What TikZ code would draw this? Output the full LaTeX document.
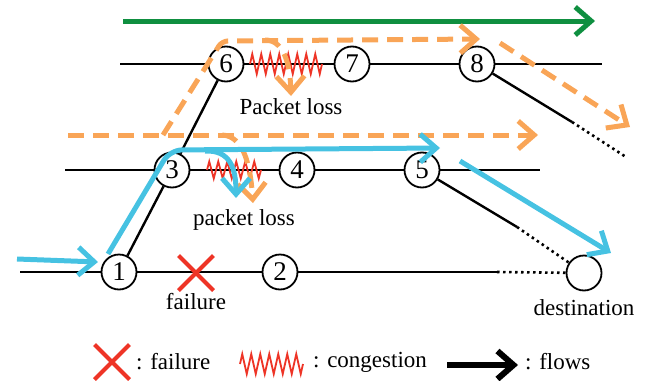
\documentclass[tikz,border=0pt]{standalone}
\usepackage{fontspec}
\setmainfont{Liberation Serif}
\usetikzlibrary{arrows.meta,decorations.pathmorphing,shapes.misc}

\definecolor{flowgreen}{HTML}{0F8F40}
\definecolor{floworange}{HTML}{F9A557}
\definecolor{flowblue}{HTML}{46C2E2}
\definecolor{failred}{HTML}{EE3426}

\begin{document}
\begin{tikzpicture}[x=1pt,y=-1pt,
  router/.style={circle,draw,line width=1.8pt,fill=white,minimum size=35pt,inner sep=0pt,font=\fontsize{27}{27}\selectfont},
  link/.style={line width=2.4pt},
  farlink/.style={line width=2.6pt,dash pattern=on 2.5pt off 3.5pt},
  congest/.style={draw=failred,line width=1.8pt,decorate,decoration={zigzag,segment length=9pt,amplitude=#1}},
  congest/.default=10pt,
  failmark/.style={cross out,draw=failred,line width=4pt,minimum size=31pt,inner sep=0pt},
  flow/.style={line width=5pt,-{Straight Barb[length=16pt,width=28pt]}},
  lossy/.style={dash pattern=on 16pt off 9pt},
  lbl/.style={font=\fontsize{23}{23}\selectfont,inner sep=0pt},
]
  \useasboundingbox (0,0) rectangle (650,380);

  % routers
  \foreach \i/\x/\y in {1/119/272,2/280/272,3/172/170,4/297/170,5/422/170,6/226/64,7/352/64,8/477/64}
    \node[router] (n\i) at (\x,\y) {\i};
  \node[router] (dst) at (584,273) {};

  % loose ends of the links
  \foreach \name/\x/\y in {w1/20/272,e2/497/272,w3/65/170,e5/540/170,d5/517/227,w6/120/64,e8/602/64,d8/572/122,f8/626/157}
    \coordinate (\name) at (\x,\y);

  \draw[link] (w1) -- (n1) -- (n2) -- (e2);
  \draw[farlink] (e2) -- (dst);
  \draw[link] (w3) -- (n3) -- (n4) -- (n5) -- (e5);
  \draw[link] (n5) -- (d5);
  \draw[farlink] (d5) -- (dst);
  \draw[link] (w6) -- (n6) -- (n7) -- (n8) -- (e8);
  \draw[link] (n8) -- (d8);
  \draw[farlink] (d8) -- (f8);
  \draw[link] (n1) -- (n3) -- (n6);

  % congestion and failure
  \foreach \name/\x/\y in {c6a/250/64,c6b/322/64,c3a/207/170,c3b/261/170}
    \coordinate (\name) at (\x,\y);
  \draw[congest] (c6a) -- (c6b);
  \draw[congest=8.5pt] (c3a) -- (c3b);
  \node[failmark] (fail) at (196,273) {};

  % flows
  \foreach \name/\x/\y in {g0/123/21,g1/595/21,
      om0/68/135,om1/538/135,ot0/163/135,ot1/222/41,ot2/480/39,oe0/500/43,oe1/630/127,
      od0/265/40,od1/291/96,od2/222/135,od3/253/203,
      bi0/17/259,bi1/98/262,bm0/108/254,bm1/170/150,bm2/440/148,
      bd0/205/151,bd1/236/198,bo0/460/161,bo1/611/253}
    \coordinate (\name) at (\x,\y);

  \draw[flow,flowgreen] (g0) -- (g1);
  \draw[flow,floworange,lossy] (om0) -- (om1);
  \draw[flow,floworange,lossy,rounded corners=6pt] (ot0) -- (ot1) -- (ot2);
  \draw[flow,floworange,lossy] (oe0) -- (oe1);
  \draw[flow,floworange,lossy] (od0) .. controls (283,40) and (290,62) .. (od1);
  \draw[flow,floworange,lossy] (od2) .. controls (242,136) and (250,160) .. (od3);
  \draw[flow,flowblue] (bi0) -- (bi1);
  \draw[flow,flowblue,rounded corners=12pt] (bm0) -- (bm1) -- (bm2);
  \draw[flow,flowblue] (bd0) .. controls (230,150) and (236,168) .. (bd1);
  \draw[flow,flowblue] (bo0) -- (bo1);

  % labels
  \node[lbl] (loss6) at (291,107) {Packet loss};
  \node[lbl] (loss3) at (244,220) {packet loss};
  \node[lbl] (faillbl) at (196,302) {failure};
  \node[lbl] (dstlbl) at (584,308) {destination};

  % legend
  \node[failmark] (keyfail) at (112,362) {};
  \node[lbl,anchor=west] (keyfailtxt) at (136,362) {: failure};
  \coordinate (k0) at (240,364);
  \coordinate (k1) at (303,364);
  \draw[congest] (k0) -- (k1);
  \node[lbl,anchor=west] (keycongtxt) at (313,362) {: congestion};
  \coordinate (a0) at (447,365);
  \coordinate (a1) at (518,365);
  \draw[flow,line width=6pt] (a0) -- (a1);
  \node[lbl,anchor=west] (keyflowtxt) at (525,362) {: flows};
\end{tikzpicture}
\end{document}
